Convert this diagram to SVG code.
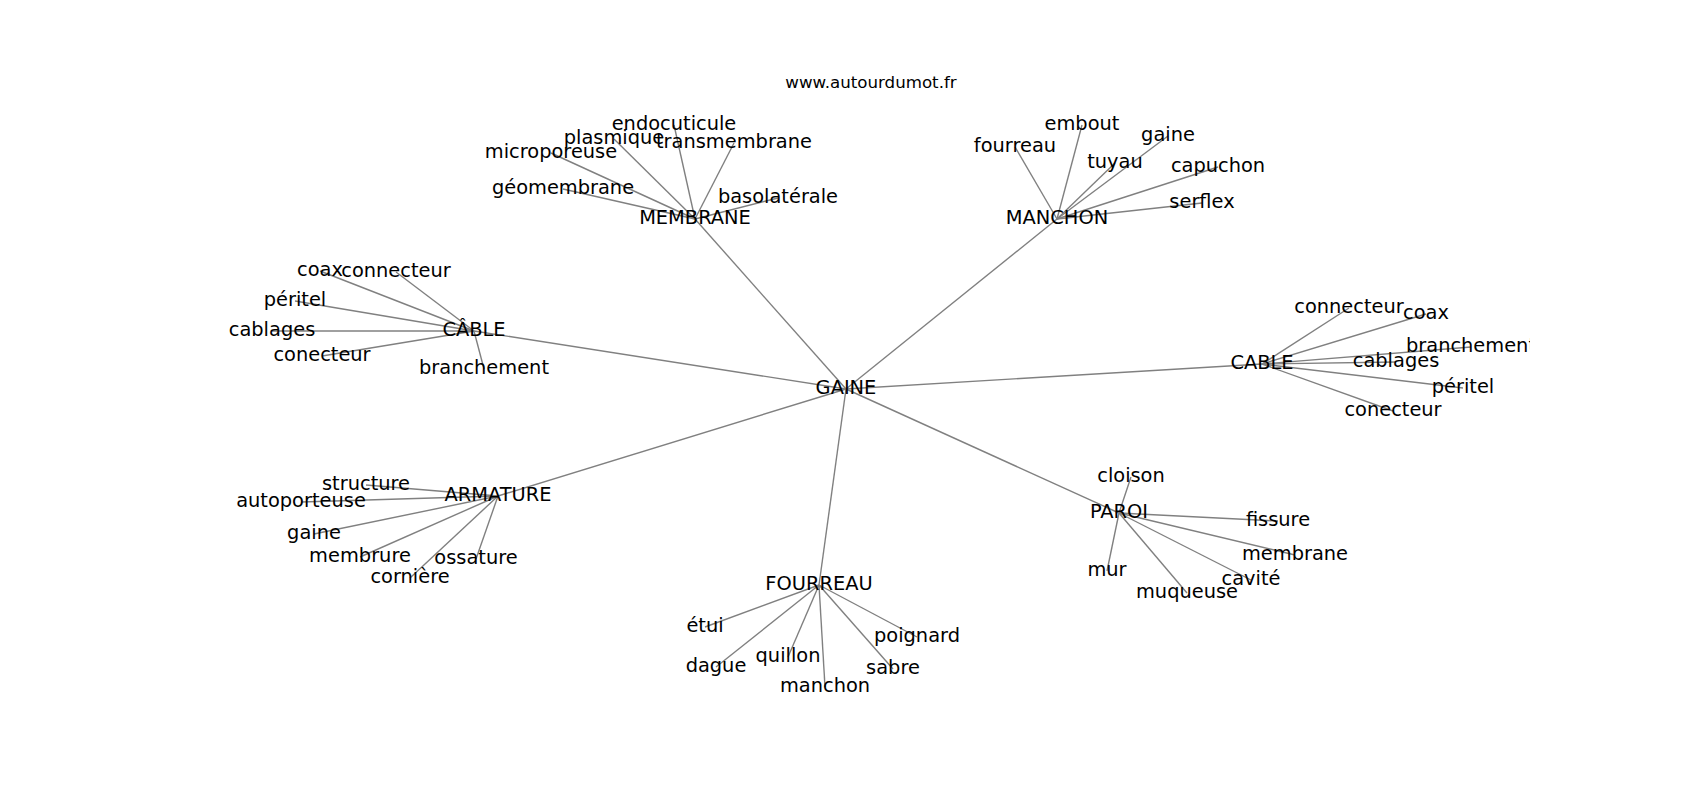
<svg xmlns="http://www.w3.org/2000/svg" width="1700" height="800" viewBox="0 0 1700 800">
<style>
.e line{stroke:#808080;stroke-width:1.39;fill:none}
.n text{font-family:"DejaVu Sans",sans-serif;font-size:19.4px;fill:#000;text-anchor:middle}
.t{font-family:"DejaVu Sans",sans-serif;font-size:16.67px;fill:#000;text-anchor:middle}
</style>
<defs>
<clipPath id="ax"><rect x="212.5" y="96" width="1317.5" height="616"/></clipPath>
</defs>
<rect width="1700" height="800" fill="#fff"/>
<text class="t" x="871" y="87.7">www.autourdumot.fr</text>
<g id="edges" class="e">
<line x1="846" y1="389" x2="695" y2="219"/>
<line x1="846" y1="389" x2="1057" y2="219"/>
<line x1="846" y1="389" x2="474" y2="331"/>
<line x1="846" y1="389" x2="1262" y2="364"/>
<line x1="846" y1="389" x2="498" y2="496"/>
<line x1="846" y1="389" x2="1119" y2="513"/>
<line x1="846" y1="389" x2="819" y2="585"/>
<line x1="695" y1="219" x2="674" y2="125"/>
<line x1="695" y1="219" x2="614" y2="139"/>
<line x1="695" y1="219" x2="734" y2="143"/>
<line x1="695" y1="219" x2="551" y2="153"/>
<line x1="695" y1="219" x2="563" y2="189"/>
<line x1="695" y1="219" x2="778" y2="198"/>
<line x1="1057" y1="219" x2="1082" y2="125"/>
<line x1="1057" y1="219" x2="1015" y2="147"/>
<line x1="1057" y1="219" x2="1168" y2="136"/>
<line x1="1057" y1="219" x2="1115" y2="163"/>
<line x1="1057" y1="219" x2="1218" y2="167"/>
<line x1="1057" y1="219" x2="1202" y2="203"/>
<line x1="474" y1="331" x2="320" y2="271"/>
<line x1="474" y1="331" x2="396" y2="272"/>
<line x1="474" y1="331" x2="295" y2="301"/>
<line x1="474" y1="331" x2="272" y2="331"/>
<line x1="474" y1="331" x2="322" y2="356"/>
<line x1="474" y1="331" x2="484" y2="369"/>
<line x1="1262" y1="364" x2="1349" y2="308"/>
<line x1="1262" y1="364" x2="1426" y2="314"/>
<line x1="1262" y1="364" x2="1471" y2="347"/>
<line x1="1262" y1="364" x2="1396" y2="362"/>
<line x1="1262" y1="364" x2="1463" y2="388"/>
<line x1="1262" y1="364" x2="1393" y2="411"/>
<line x1="498" y1="496" x2="366" y2="485"/>
<line x1="498" y1="496" x2="301" y2="502"/>
<line x1="498" y1="496" x2="314" y2="534"/>
<line x1="498" y1="496" x2="360" y2="557"/>
<line x1="498" y1="496" x2="476" y2="559"/>
<line x1="498" y1="496" x2="410" y2="578"/>
<line x1="1119" y1="513" x2="1131" y2="477"/>
<line x1="1119" y1="513" x2="1278" y2="521"/>
<line x1="1119" y1="513" x2="1295" y2="555"/>
<line x1="1119" y1="513" x2="1107" y2="571"/>
<line x1="1119" y1="513" x2="1251" y2="580"/>
<line x1="1119" y1="513" x2="1187" y2="593"/>
<line x1="819" y1="585" x2="705" y2="627"/>
<line x1="819" y1="585" x2="917" y2="637"/>
<line x1="819" y1="585" x2="716" y2="667"/>
<line x1="819" y1="585" x2="788" y2="657"/>
<line x1="819" y1="585" x2="893" y2="669"/>
<line x1="819" y1="585" x2="825" y2="687"/>
</g>
<g id="nodes" class="n" clip-path="url(#ax)">
<g id="n-gaine"><text x="846" y="394.4">GAINE</text></g>
<g id="n-membrane"><text x="695" y="224.4">MEMBRANE</text></g>
<g id="n-manchon"><text x="1057" y="224.4">MANCHON</text></g>
<g id="n-cable1"><text x="474" y="336.4">CÂBLE</text></g>
<g id="n-cable2"><text x="1262" y="369.4">CABLE</text></g>
<g id="n-armature"><text x="498" y="501.4">ARMATURE</text></g>
<g id="n-paroi"><text x="1119" y="518.4">PAROI</text></g>
<g id="n-fourreau"><text x="819" y="590.4">FOURREAU</text></g>
<g id="n-endocuticule"><text x="674" y="130.4">endocuticule</text></g>
<g id="n-plasmique"><text x="614" y="144.4">plasmique</text></g>
<g id="n-transmembrane"><text x="734" y="148.4">transmembrane</text></g>
<g id="n-microporeuse"><text x="551" y="158.4">microporeuse</text></g>
<g id="n-geomembrane"><text x="563" y="194.4">géomembrane</text></g>
<g id="n-basolaterale"><text x="778" y="203.4">basolatérale</text></g>
<g id="n-embout"><text x="1082" y="130.4">embout</text></g>
<g id="n-fourreau2"><text x="1015" y="152.4">fourreau</text></g>
<g id="n-gaine2"><text x="1168" y="141.4">gaine</text></g>
<g id="n-tuyau"><text x="1115" y="168.4">tuyau</text></g>
<g id="n-capuchon"><text x="1218" y="172.4">capuchon</text></g>
<g id="n-serflex"><text x="1202" y="208.4">serflex</text></g>
<g id="n-coax1"><text x="320" y="276.4">coax</text></g>
<g id="n-connecteur1"><text x="396" y="277.4">connecteur</text></g>
<g id="n-peritel1"><text x="295" y="306.4">péritel</text></g>
<g id="n-cablages1"><text x="272" y="336.4">cablages</text></g>
<g id="n-conecteur1"><text x="322" y="361.4">conecteur</text></g>
<g id="n-branchement1"><text x="484" y="374.4">branchement</text></g>
<g id="n-connecteur2"><text x="1349" y="313.4">connecteur</text></g>
<g id="n-coax2"><text x="1426" y="319.4">coax</text></g>
<g id="n-branchement2"><text x="1471" y="352.4">branchement</text></g>
<g id="n-cablages2"><text x="1396" y="367.4">cablages</text></g>
<g id="n-peritel2"><text x="1463" y="393.4">péritel</text></g>
<g id="n-conecteur2"><text x="1393" y="416.4">conecteur</text></g>
<g id="n-structure"><text x="366" y="490.4">structure</text></g>
<g id="n-autoporteuse"><text x="301" y="507.4">autoporteuse</text></g>
<g id="n-gaine3"><text x="314" y="539.4">gaine</text></g>
<g id="n-membrure"><text x="360" y="562.4">membrure</text></g>
<g id="n-ossature"><text x="476" y="564.4">ossature</text></g>
<g id="n-corniere"><text x="410" y="583.4">cornière</text></g>
<g id="n-cloison"><text x="1131" y="482.4">cloison</text></g>
<g id="n-fissure"><text x="1278" y="526.4">fissure</text></g>
<g id="n-membrane2"><text x="1295" y="560.4">membrane</text></g>
<g id="n-mur"><text x="1107" y="576.4">mur</text></g>
<g id="n-cavite"><text x="1251" y="585.4">cavité</text></g>
<g id="n-muqueuse"><text x="1187" y="598.4">muqueuse</text></g>
<g id="n-etui"><text x="705" y="632.4">étui</text></g>
<g id="n-poignard"><text x="917" y="642.4">poignard</text></g>
<g id="n-dague"><text x="716" y="672.4">dague</text></g>
<g id="n-quillon"><text x="788" y="662.4">quillon</text></g>
<g id="n-sabre"><text x="893" y="674.4">sabre</text></g>
<g id="n-manchon2"><text x="825" y="692.4">manchon</text></g>
</g>
</svg>
